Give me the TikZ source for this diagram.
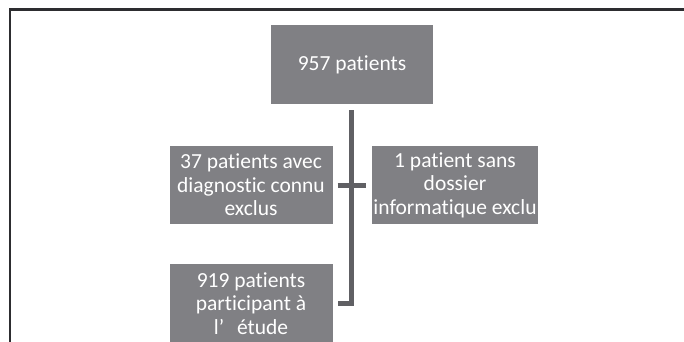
\documentclass[tikz,border=0pt]{standalone}
\usepackage{fontspec}
\setmainfont{Carlito}[Ligatures=NoCommon]
\usetikzlibrary{positioning}

\definecolor{boxgray}{RGB}{128,128,132}
\definecolor{linkgray}{RGB}{96,96,100}
\definecolor{framegray}{RGB}{45,45,48}

\begin{document}
\begin{tikzpicture}[x=1pt, y=1pt,
    stage/.style={fill=boxgray, text=white, align=center, inner sep=1pt,
        minimum width=163pt, minimum height=78pt,
        font=\fontsize{21.5}{23.5}\selectfont},
    link/.style={draw=linkgray, line width=5pt}]
    \useasboundingbox (0,0) rectangle (684,-342);
    \clip (0,0) rectangle (684,-342);

    % Frame
    \draw[framegray, line width=2.5pt] (10,-360) -- (10,-9.5) -- (700,-9.5);

    % Nodes
    \node[stage, minimum width=162pt, minimum height=79pt] (total) at (352,-64.5)
        {957 patients};

    \node[stage] (known) at (251,-185)
        {37 patients avec \\ diagnostic connu \\ exclus};

    \node[stage, minimum width=164pt] (nofile) at (455,-185)
        {1 patient sans \\ dossier \\ informatique exclu};

    \node[stage, below=40pt of known] (study)
        {919 patients \\ participant à \\ l’\hspace{0.6em}étude};

    % Connectors
    \draw[link] ([yshift=-6pt]total.south -| 351.5,0) |- ([xshift=5pt]study.east);
    \draw[link] ([xshift=5pt]known.east) -- ([xshift=-6pt]nofile.west);
\end{tikzpicture}
\end{document}
